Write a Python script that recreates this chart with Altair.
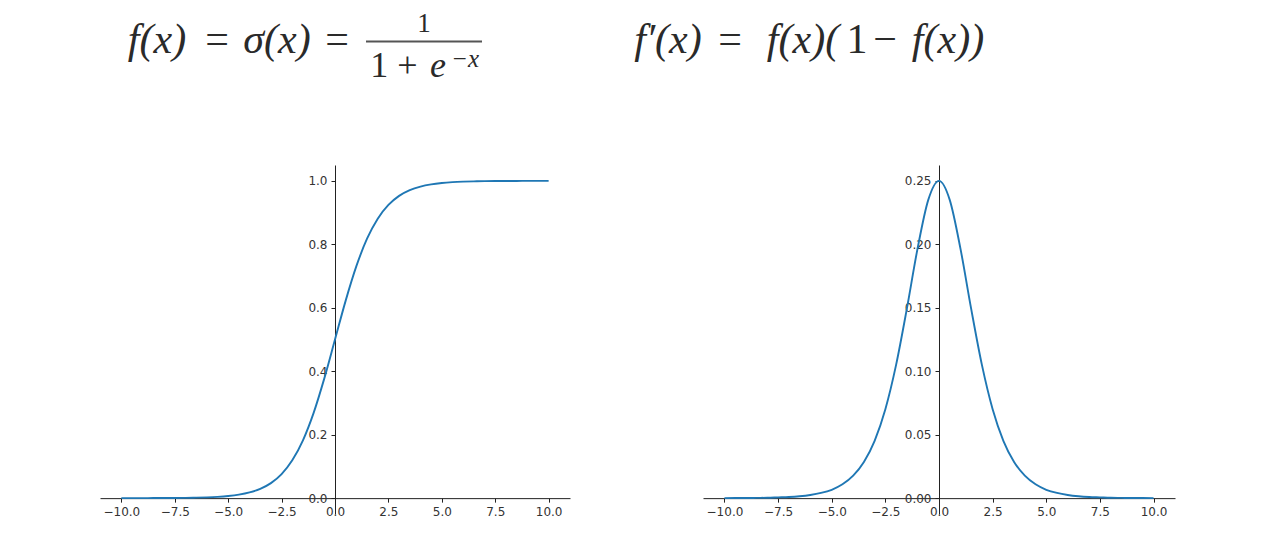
import altair as alt
import pandas as pd

# ---------------- data ----------------
x_vals = [-10.0, -9.5, -9.0, -8.5, -8.0, -7.5, -7.0, -6.5, -6.0, -5.5,
          -5.0, -4.5, -4.0, -3.5, -3.0, -2.5, -2.0, -1.5, -1.0, -0.5,
          0.0, 0.5, 1.0, 1.5, 2.0, 2.5, 3.0, 3.5, 4.0, 4.5,
          5.0, 5.5, 6.0, 6.5, 7.0, 7.5, 8.0, 8.5, 9.0, 9.5, 10.0]

sigmoid_vals = [0.0000, 0.0001, 0.0001, 0.0002, 0.0003, 0.0006, 0.0009, 0.0015, 0.0025, 0.0041,
                0.0067, 0.0110, 0.0180, 0.0293, 0.0474, 0.0759, 0.1192, 0.1824, 0.2689, 0.3775,
                0.5000, 0.6225, 0.7311, 0.8176, 0.8808, 0.9241, 0.9526, 0.9707, 0.9820, 0.9890,
                0.9933, 0.9959, 0.9975, 0.9985, 0.9991, 0.9994, 0.9997, 0.9998, 0.9999, 0.9999, 1.0000]

deriv_vals = [0.0000, 0.0001, 0.0001, 0.0002, 0.0003, 0.0006, 0.0009, 0.0015, 0.0025, 0.0041,
              0.0066, 0.0109, 0.0177, 0.0285, 0.0452, 0.0701, 0.1050, 0.1491, 0.1966, 0.2350,
              0.2500, 0.2350, 0.1966, 0.1491, 0.1050, 0.0701, 0.0452, 0.0285, 0.0177, 0.0109,
              0.0066, 0.0041, 0.0025, 0.0015, 0.0009, 0.0006, 0.0003, 0.0002, 0.0001, 0.0001, 0.0000]

x_ticks = [-10.0, -7.5, -5.0, -2.5, 0.0, 2.5, 5.0, 7.5, 10.0]
sig_ticks = [0.0, 0.2, 0.4, 0.6, 0.8, 1.0]
der_ticks = [0.0, 0.05, 0.10, 0.15, 0.20, 0.25]

df = pd.DataFrame({"x": x_vals, "sig": sigmoid_vals, "der": deriv_vals})

# ---------------- layout ----------------
H = 349
W_LEFT, W_RIGHT = 470, 472
X_DOM = [-11, 11]
LINE_COLOR = "#1f77b4"
AX_COLOR = "#222222"


def panel(field, ydom, yticks, yfmt, width):
    y0_from_bottom = H * (0 - ydom[0]) / (ydom[1] - ydom[0])
    x0_from_left = width * (0 - X_DOM[0]) / (X_DOM[1] - X_DOM[0])
    return alt.Chart(df).mark_line(
        color=LINE_COLOR, strokeWidth=1.9, interpolate="monotone"
    ).encode(
        x=alt.X("x:Q",
                scale=alt.Scale(domain=X_DOM, nice=False, zero=False),
                axis=alt.Axis(values=x_ticks, format=".1f", offset=-y0_from_bottom,
                              title=None, grid=False, labelPadding=4,
                              labelFlush=False, labelOverlap=False)),
        y=alt.Y(field + ":Q",
                scale=alt.Scale(domain=ydom, nice=False, zero=False),
                axis=alt.Axis(values=yticks, format=yfmt, offset=-x0_from_left,
                              title=None, grid=False, labelPadding=4,
                              labelOverlap=False)),
    ).properties(width=width, height=H)


left = panel("sig", [-0.05, 1.05], sig_ticks, ".1f", W_LEFT)
right = panel("der", [-0.0125, 0.2625], der_ticks, ".2f", W_RIGHT)

# ---------------- formula header (annotation text) ----------------
ORIGIN_X, ORIGIN_Y = 100, 8
SERIF = "Liberation Serif"
FS = 42
TXT = "#2a2a2a"
one = pd.DataFrame({"k": [0]})

pieces = [
    # text, abs center x, abs baseline y, size, italic
    ("f(x)", 157, 53, FS, True),
    ("=", 217, 53, FS, False),
    ("σ(x)", 277, 53, FS, True),
    ("=", 337, 53, FS, False),
    ("1", 424, 32, 27, False),
    ("1 +", 394, 77, 36, False),
    ("e", 438, 77, 36, True),
    ("−x", 465, 67, 25, True),
    ("f′(x)", 668, 53, FS, True),
    ("=", 730, 53, FS, False),
    ("f(x)(", 803, 53, FS, True),
    ("1", 857, 53, FS, False),
    ("−", 885, 53, FS, False),
    ("f(x))", 948, 53, FS, True),
]

layers = []
for txt, cx, by, size, ital in pieces:
    kw = dict(text=txt, font=SERIF, fontSize=size, align="center",
              baseline="alphabetic", color=TXT)
    if ital:
        kw["fontStyle"] = "italic"
    layers.append(
        alt.Chart(one).mark_text(**kw).encode(
            x=alt.value(cx - ORIGIN_X), y=alt.value(by - ORIGIN_Y))
    )

layers.append(
    alt.Chart(one).mark_rule(color="#555555", strokeWidth=1.8).encode(
        x=alt.value(366 - ORIGIN_X), x2=alt.value(482 - ORIGIN_X),
        y=alt.value(41.5 - ORIGIN_Y))
)

header = alt.layer(*layers).properties(width=1075, height=147)

chart = alt.vconcat(
    header,
    alt.hconcat(left, right, spacing=133),
    spacing=10,
).properties(
    padding={"left": 92, "top": 0, "right": 5, "bottom": 5}
).configure_view(
    stroke=None
).configure_axis(
    domainColor=AX_COLOR, domainWidth=1,
    tickColor=AX_COLOR, tickWidth=1, tickSize=4,
    labelFont="DejaVu Sans", labelFontSize=12, labelColor="#333333",
)

chart.save("out.html", embed_options={"renderer": "svg", "actions": False})
